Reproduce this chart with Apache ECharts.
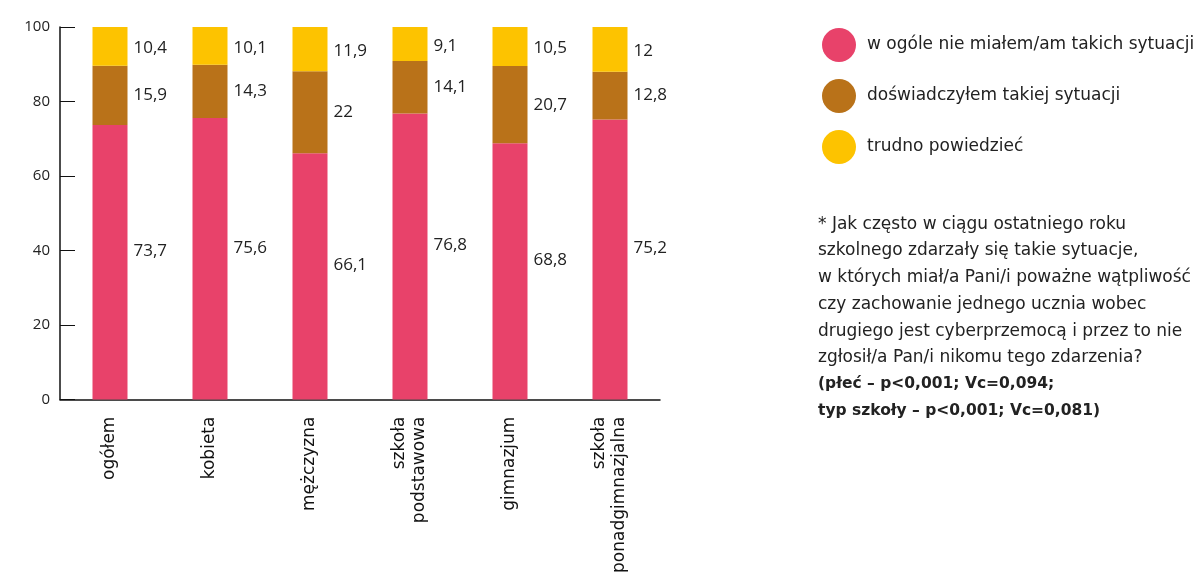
<!DOCTYPE html>
<html><head><meta charset="utf-8">
<script src="https://cdn.jsdelivr.net/npm/echarts@6/dist/echarts.min.js"></script>
<style>html,body{margin:0;padding:0;background:#fff}#c{width:1202px;height:576px}</style>
</head><body><div id="c"></div>
<script>
const categories = ['ogółem','kobieta','mężczyzna','szkoła\npodstawowa','gimnazjum','szkoła\nponadgimnazjalna'];
const seriesNames = ['w ogóle nie miałem/am takich sytuacji','doświadczyłem takiej sytuacji','trudno powiedzieć'];
const neverValues = [73.7, 75.6, 66.1, 76.8, 68.8, 75.2];
const experiencedValues = [15.9, 14.3, 22, 14.1, 20.7, 12.8];
const hardToSayValues = [10.4, 10.1, 11.9, 9.1, 10.5, 12];
const yTicks = [0, 20, 40, 60, 80, 100];
const noteLines = [
  '* Jak często w ciągu ostatniego roku',
  'szkolnego zdarzały się takie sytuacje,',
  'w których miał/a Pani/i poważne wątpliwość',
  'czy zachowanie jednego ucznia wobec',
  'drugiego jest cyberprzemocą i przez to nie',
  'zgłosił/a Pan/i nikomu tego zdarzenia?'
];
const noteBold = ['(płeć – p<0,001; Vc=0,094;', 'typ szkoły – p<0,001; Vc=0,081)'];

const NUMFONT = 'Open Sans';
const FONT = 'DejaVu Sans';
const colors = ['#E8426A', '#B97219', '#FDC300'];
const fmt = p => String(p.value).replace('.', ',');
function mk(name, data, color, offY) {
  return {
    name, type: 'bar', stack: 'a', data, barWidth: 35,
    itemStyle: { color },
    label: { show: true, position: 'right', distance: 6, offset: [0, offY], formatter: fmt,
      color: '#222', fontSize: 17, fontFamily: NUMFONT }
  };
}
const chart = echarts.init(document.getElementById('c'));
chart.setOption({
  animation: false,
  textStyle: { fontFamily: FONT },
  grid: { left: 60, right: 542, top: 27, bottom: 176 },
  legend: {
    orient: 'vertical', left: 817, top: 23, icon: 'circle',
    itemWidth: 34, itemHeight: 34, itemGap: 17,
    textStyle: { fontSize: 17, color: '#222', fontFamily: FONT, padding: [0, 0, 0, 6] },
    data: seriesNames
  },
  xAxis: {
    type: 'category', data: categories,
    axisLine: { lineStyle: { color: '#111', width: 1.5 } },
    axisTick: { inside: true, length: 10, lineStyle: { color: '#111' } },
    axisLabel: { rotate: 90, margin: 17, fontSize: 17, color: '#111', fontFamily: FONT, lineHeight: 20 }
  },
  yAxis: {
    type: 'value', min: 0, max: 100, interval: 20,
    splitLine: { show: false },
    axisLine: { show: true, lineStyle: { color: '#111', width: 1.5 } },
    axisTick: { show: true, inside: true, length: 15, lineStyle: { color: '#111' } },
    axisLabel: { margin: 10, fontSize: 15, color: '#222', fontFamily: NUMFONT, padding: [0, 0, 12, 0],
      formatter: v => yTicks.includes(v) ? String(v) : '' }
  },
  graphic: [
    { type: 'text', left: 818, top: 211, style: { text: noteLines.join('\n'), fontSize: 17, lineHeight: 26.7, fill: '#222', fontFamily: FONT } },
    { type: 'text', left: 818, top: 371, style: { text: noteBold.join('\n'), fontSize: 15.5, lineHeight: 26.7, fill: '#222', fontWeight: 'bold', fontFamily: FONT } }
  ],
  series: [
    mk(seriesNames[0], neverValues, colors[0], -11),
    mk(seriesNames[1], experiencedValues, colors[1], 0),
    mk(seriesNames[2], hardToSayValues, colors[2], 2)
  ]
});
</script></body></html>
